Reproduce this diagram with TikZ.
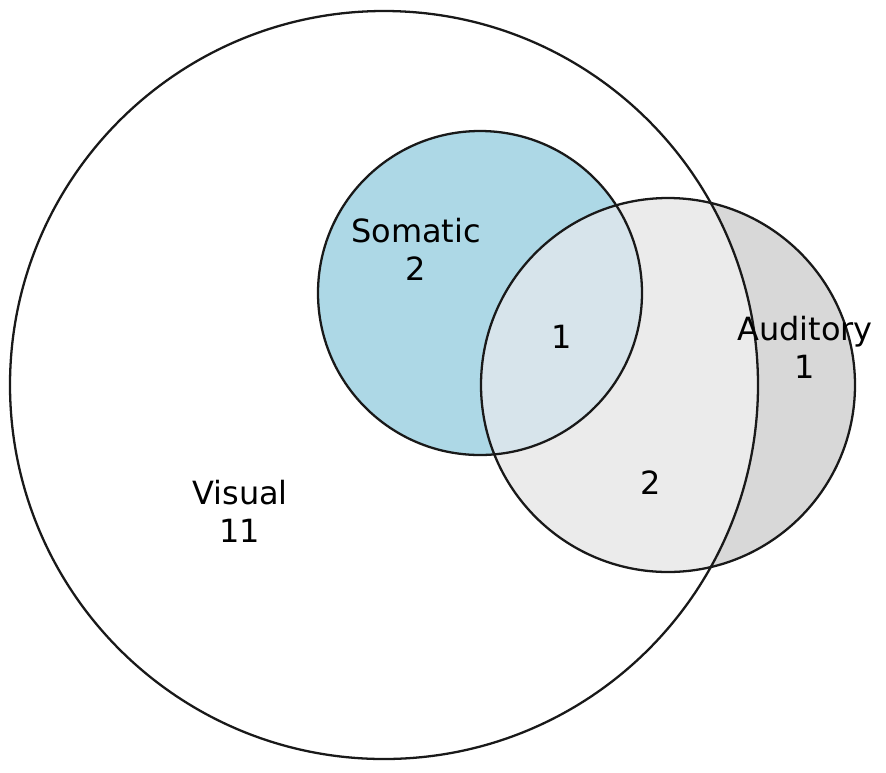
\documentclass[tikz,border=0pt]{standalone}
\usepackage{fontspec}
\setmainfont{DejaVu Sans}
\definecolor{somblue}{RGB}{173,216,230}
\definecolor{overlap}{RGB}{215,228,235}
\definecolor{audin}{RGB}{235,235,235}
\definecolor{audout}{RGB}{216,216,216}
\begin{document}
\begin{tikzpicture}[x=0.02cm, y=-0.02cm,
        ring/.style={draw=black!90, line width=1.3pt},
        count/.style={align=center, font=\fontsize{18.2}{21.8}\selectfont}]
        \useasboundingbox (0,0) rectangle (886,772);
        \pgfmathsetmacro{\rv}{374};
        \pgfmathsetmacro{\rs}{162};
        \pgfmathsetmacro{\ra}{187};
        \coordinate (vis) at (384,385);
        \coordinate (som) at (480,293);
        \coordinate (aud) at (668,385);
        % fills
        \fill [audout] (aud) circle [radius = \ra];
        \begin{scope}
            \clip (vis) circle [radius = \rv];
            \fill [audin] (aud) circle [radius = \ra];
        \end{scope}
        \fill [somblue] (som) circle [radius = \rs];
        \begin{scope}
            \clip (aud) circle [radius = \ra];
            \fill [overlap] (som) circle [radius = \rs];
        \end{scope}
        % outlines
        \draw [ring] (vis) circle [radius = \rv];
        \draw [ring] (som) circle [radius = \rs];
        \draw [ring] (aud) circle [radius = \ra];
        % labels
        \node [count] (somtxt) at (416,249) {Somatic\\2};
        \node [count] (audtxt) at (805,347) {Auditory\\1};
        \node [count] (vistxt) at (240,511) {Visual\\11};
        \node [count] (sa) at (562,337) {1};
        \node [count] (va) at (651,483) {2};
\end{tikzpicture}
\end{document}
